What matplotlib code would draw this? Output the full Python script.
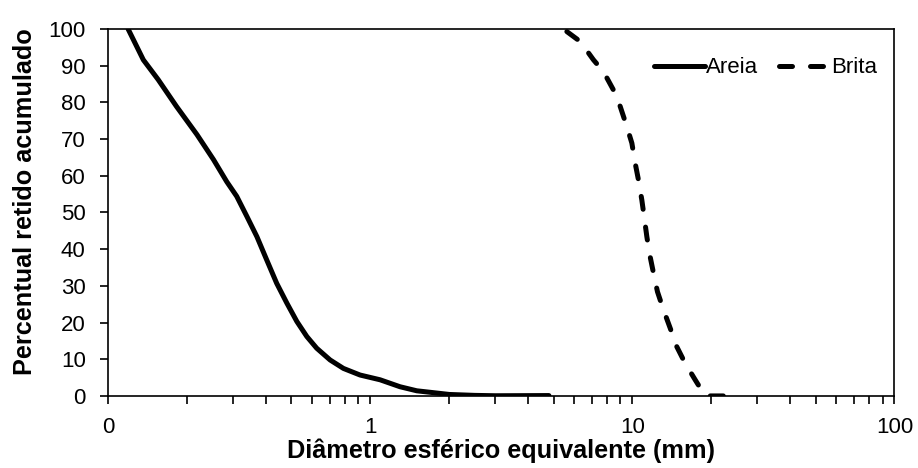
import matplotlib
matplotlib.use('Agg')
import matplotlib.pyplot as plt
from matplotlib.ticker import FixedLocator, LogLocator, NullFormatter, FixedFormatter

plt.rcParams['font.family'] = ['Liberation Sans', 'DejaVu Sans']

# Areia (sand)
areia_d = [0.119, 0.136, 0.155, 0.182, 0.218, 0.252, 0.283, 0.309, 0.338,
           0.369, 0.402, 0.439, 0.480, 0.524, 0.572, 0.624, 0.702, 0.789,
           0.913, 1.089, 1.298, 1.503, 2.0, 2.5, 3.0, 4.8]
areia_p = [100, 91.6, 86.2, 78.9, 71.2, 64.4, 58.4, 54.4, 48.9,
           43.4, 37.1, 30.7, 25.3, 20.3, 16.2, 13.0, 9.8, 7.5,
           5.7, 4.4, 2.5, 1.4, 0.4, 0.15, 0.05, 0.1]

# Brita (gravel)
brita_d = [5.62, 6.32, 7.10, 7.75, 8.46, 8.98, 9.52, 9.95, 10.24, 10.54,
           10.86, 11.08, 11.35, 11.61, 12.03, 12.46, 13.13, 13.93, 14.77,
           15.89, 17.35, 18.95, 25.0]
brita_p = [99.3, 96.6, 91.6, 88.4, 83.4, 78.9, 73.4, 68.9, 63.5, 58.9,
           53.4, 48.9, 43.4, 38.9, 33.5, 28.4, 23.5, 18.5, 13.4,
           8.9, 4.4, 0.0, 0.0]

xticks = [0.1, 1, 10, 100]
xlabels = ['0', '1', '10', '100']

fig = plt.figure(figsize=(9.18, 4.68), dpi=100)
ax = fig.add_axes([0.118, 0.154, 0.8564, 0.784])

ax.plot(areia_d, areia_p, color='black', lw=3.6, solid_capstyle='round',
        solid_joinstyle='round', label='Areia')
ax.plot(brita_d, brita_p, color='black', lw=3.6, dashes=(2.6, 3.6),
        dash_capstyle='round', dash_joinstyle='round', label='Brita')

ax.set_xscale('log')
ax.set_xlim(0.1, 100)
ax.set_ylim(0, 100)
ax.xaxis.set_major_locator(FixedLocator(xticks))
ax.xaxis.set_major_formatter(FixedFormatter(xlabels))
ax.xaxis.set_minor_locator(LogLocator(base=10, subs=range(2, 10)))
ax.xaxis.set_minor_formatter(NullFormatter())
ax.set_yticks(range(0, 101, 10))

for s in ax.spines.values():
    s.set_linewidth(1.2)
ax.tick_params(axis='both', which='both', direction='out', width=1.2,
               labelsize=16, colors='black')
ax.tick_params(axis='both', which='major', length=5.8)
ax.tick_params(axis='x', which='minor', length=5.8)
ax.tick_params(axis='x', pad=9.5)
ax.tick_params(axis='y', pad=10.5)

ax.set_xlabel('Diâmetro esférico equivalente (mm)', fontsize=18.2,
              fontweight='bold', labelpad=0)
ax.set_ylabel('Percentual retido acumulado', fontsize=18.2,
              fontweight='bold')
ax.yaxis.set_label_coords(-0.091, 0.53)

ax.legend(loc='center right', ncol=2, frameon=False, fontsize=16,
          handlelength=2.3, handletextpad=0.05, columnspacing=0.95,
          borderpad=0, borderaxespad=0,
          bbox_to_anchor=(0.978, 0.894))

fig.savefig('out.png', dpi=100)
